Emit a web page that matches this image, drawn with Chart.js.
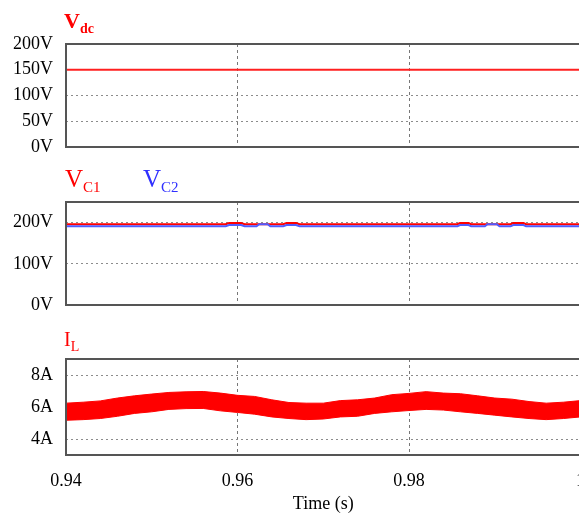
<!DOCTYPE html>
<html lang="en">
<head>
    <meta charset="UTF-8">
    <title>Vdc, VC1/VC2 and IL waveforms</title>
    <script src="https://cdn.jsdelivr.net/npm/chart.js"></script>
    <style>
        body {
            margin: 0;
            background: #fff;
            font-family: "Liberation Serif", serif;
        }
        #wrap {
            position: relative;
            width: 579px;
            height: 515px;
            overflow: hidden;
        }
        canvas {
            position: absolute;
            left: 0;
        }
        .label {
            position: absolute;
            line-height: 1;
            white-space: nowrap;
        }
        .label sub {
            vertical-align: -5px;
            line-height: 1;
        }
    </style>
</head>
<body>
<div id="wrap">
    <canvas id="vdcChart" width="600" height="160" style="top:0"></canvas>
    <canvas id="vcChart" width="600" height="160" style="top:160px"></canvas>
    <canvas id="ilChart" width="600" height="195" style="top:320px"></canvas>

    <div class="label" style="left:64px; top:10px; color:#f00; font-size:22px; font-weight:bold;">V<sub style="font-size:14px;">dc</sub></div>
    <div class="label" style="left:65px; top:166px; color:#f00; font-size:25px;">V<sub style="font-size:15px;">C1</sub></div>
    <div class="label" style="left:143px; top:166px; color:#3030ff; font-size:25px;">V<sub style="font-size:15px;">C2</sub></div>
    <div class="label" style="left:64px; top:329px; color:#f00; font-size:20px;">I<sub style="font-size:14px;">L</sub></div>
</div>

<script>
    // time axis
    const timeTicks = [0.94, 0.96, 0.98, 1.0];
    const timeLabels = ['0.94', '0.96', '0.98', '1'];

    // DC link voltage
    const vdcTime = [0.94, 1.0];
    const vdcValues = [150, 150];
    const vdcTicks = [0, 50, 100, 150, 200];
    const vdcTickLabels = ['0V', '50V', '100V', '150V', '200V'];

    // capacitor voltages
    const vcTime = [0.94, 0.9586, 0.9590, 0.9604, 0.9608, 0.9622, 0.9625, 0.9635, 0.9638,
        0.9653, 0.9657, 0.9668, 0.9672, 0.9856, 0.9859, 0.9869, 0.9872, 0.9888, 0.9891,
        0.9902, 0.9905, 0.9918, 0.9921, 0.9933, 0.9936, 1.0];
    const vc1Values = [196, 196, 199, 199, 196, 196, 196, 196, 196, 196, 199, 199, 196,
        196, 199, 199, 196, 196, 196, 196, 196, 196, 199, 199, 196, 196];
    const vc2Values = [191, 191, 194, 194, 191, 191, 196, 196, 191, 191, 194, 194, 191,
        191, 194, 194, 191, 191, 196, 196, 191, 191, 194, 194, 191, 191];
    const vcTicks = [0, 50, 100, 150, 200, 250];
    const vcTickLabels = ['0V', '', '100V', '', '200V', ''];

    // inductor current (upper / lower edge of the ripple band)
    const ilTime = [0.940, 0.942, 0.944, 0.946, 0.948, 0.950, 0.952, 0.954, 0.956, 0.958,
        0.960, 0.962, 0.964, 0.966, 0.968, 0.970, 0.972, 0.974, 0.976, 0.978,
        0.980, 0.982, 0.984, 0.986, 0.988, 0.990, 0.992, 0.994, 0.996, 0.998, 1.000];
    const ilUpper = [6.24, 6.30, 6.38, 6.56, 6.70, 6.81, 6.91, 6.95, 6.97, 6.87,
        6.73, 6.66, 6.45, 6.28, 6.24, 6.24, 6.40, 6.45, 6.56, 6.77,
        6.85, 6.96, 6.87, 6.83, 6.70, 6.56, 6.49, 6.34, 6.24, 6.30, 6.40];
    const ilLower = [5.17, 5.21, 5.28, 5.42, 5.60, 5.70, 5.85, 5.90, 5.91, 5.76,
        5.66, 5.55, 5.38, 5.28, 5.21, 5.25, 5.38, 5.42, 5.60, 5.70,
        5.78, 5.85, 5.81, 5.70, 5.60, 5.49, 5.38, 5.28, 5.21, 5.28, 5.38];
    const ilTicks = [4, 6, 8];
    const ilTickLabels = ['4A', '6A', '8A'];

    const toPoints = (xs, ys) => xs.map((x, i) => ({ x: x, y: ys[i] }));

    // box around each plot area
    const framePlugin = {
        id: 'frame',
        afterDraw(chart) {
            const a = chart.chartArea;
            const ctx = chart.ctx;
            ctx.save();
            ctx.strokeStyle = '#555';
            ctx.lineWidth = 2;
            ctx.strokeRect(a.left, a.top, a.right - a.left, a.bottom - a.top);
            ctx.restore();
        }
    };

    // xHeight: room under the plot (labels + title on the last panel only)
    function xAxis(showLabels, xHeight) {
        return {
            type: 'linear',
            min: 0.94,
            max: 1.0,
            afterBuildTicks: scale => { scale.ticks = timeTicks.map(v => ({ value: v })); },
            afterFit: scale => { scale.height = xHeight; },
            grid: { color: '#777', lineWidth: 1, drawTicks: false },
            border: { display: false, dash: [3, 3] },
            ticks: {
                display: showLabels,
                padding: 15,
                color: '#000',
                font: { family: 'Liberation Serif', size: 18 },
                callback: (v, i) => timeLabels[i]
            },
            title: {
                display: showLabels,
                text: 'Time (s)',
                color: '#000',
                font: { family: 'Liberation Serif', size: 18 },
                padding: { top: 0, bottom: 0 }
            }
        };
    }

    function yAxis(min, max, ticks, labels) {
        return {
            min: min,
            max: max,
            afterBuildTicks: scale => { scale.ticks = ticks.map(v => ({ value: v })); },
            afterFit: scale => {
                scale.width = 66;
                // labels may overhang the plot, the canvas has room for them
                scale.paddingTop = 0;
                scale.paddingBottom = 0;
            },
            grid: { color: '#8c8c8c', lineWidth: 1, drawTicks: false },
            border: { display: false, dash: [2, 3] },
            ticks: {
                padding: 13,
                color: '#000',
                font: { family: 'Liberation Serif', size: 18 },
                callback: (v, i) => labels[i]
            }
        };
    }

    function makeChart(id, datasets, padTop, yScale, showX, xHeight) {
        return new Chart(document.getElementById(id), {
            type: 'line',
            data: { datasets: datasets },
            options: {
                responsive: false,
                animation: false,
                devicePixelRatio: 1,
                layout: {
                    autoPadding: false,
                    padding: { top: padTop, bottom: 0, left: 0, right: 19 }
                },
                plugins: { legend: { display: false }, tooltip: { enabled: false } },
                elements: { point: { radius: 0 }, line: { tension: 0 } },
                scales: { x: xAxis(showX, xHeight), y: yScale }
            },
            plugins: [framePlugin]
        });
    }

    makeChart('vdcChart', [
        { data: toPoints(vdcTime, vdcValues), borderColor: '#ff2020', borderWidth: 2 }
    ], 44, yAxis(0, 200, vdcTicks, vdcTickLabels), false, 13);

    makeChart('vcChart', [
        { data: toPoints(vcTime, vc2Values), borderColor: '#4f5cff', borderWidth: 2, order: 0 },
        { data: toPoints(vcTime, vc1Values), borderColor: '#ff0000', borderWidth: 2, order: 1 }
    ], 42, yAxis(0, 250, vcTicks, vcTickLabels), false, 15);

    makeChart('ilChart', [
        { data: toPoints(ilTime, ilUpper), borderColor: '#ff0000', borderWidth: 1, fill: false },
        { data: toPoints(ilTime, ilLower), borderColor: '#ff0000', borderWidth: 1,
          backgroundColor: '#ff0000', fill: '-1' }
    ], 39, yAxis(3, 9, ilTicks, ilTickLabels), true, 60);
</script>
</body>
</html>
